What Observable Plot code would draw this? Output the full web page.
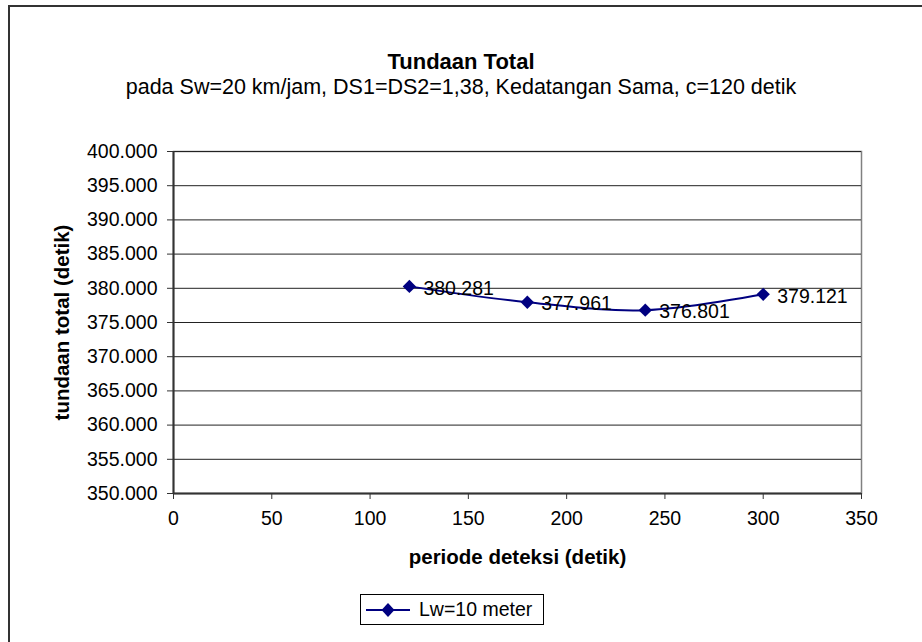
<!DOCTYPE html>
<html>
<head>
<meta charset="utf-8">
<script src="https://cdn.jsdelivr.net/npm/d3@7"></script>
<script src="https://cdn.jsdelivr.net/npm/@observablehq/plot@0.6"></script>
<style>
  html, body { margin: 0; padding: 0; width: 922px; height: 642px; overflow: hidden; background: #fff; font-family: "Liberation Sans", Arial, sans-serif; }
  #frame { position: absolute; left: 8px; top: 5px; width: 1000px; height: 1000px; border: 2px solid #333; box-sizing: border-box; }
  .title { position: absolute; left: 0; width: 922px; text-align: center; color: #000; white-space: nowrap; }
  #t1 { top: 49px; font-size: 22px; font-weight: bold; line-height: 26px; }
  #t2 { top: 74px; font-size: 21.5px; line-height: 26px; }
  #chart { position: absolute; left: 0; top: 100px; }
  #legend { position: absolute; left: 360px; top: 594px; width: 184px; height: 31px; border: 1px solid #000; background: #fff; display: flex; align-items: center; padding: 0 0 0 4px; font-size: 19.5px; box-sizing: border-box; }
  #legend svg { margin-right: 8px; }
</style>
</head>
<body>
<div id="frame"></div>
<div class="title" id="t1"></div>
<div class="title" id="t2"></div>
<div id="chart"></div>
<div id="legend"></div>
<script>
// ---- data ----
const titleText = "Tundaan Total";
const subtitleText = "pada Sw=20 km/jam, DS1=DS2=1,38, Kedatangan Sama, c=120 detik";
const xTitle = "periode deteksi (detik)";
const yTitle = "tundaan total (detik)";
const seriesName = "Lw=10 meter";
const periods = [120, 180, 240, 300];
const delays = [380281, 377961, 376801, 379121];
const xTicks = [0, 50, 100, 150, 200, 250, 300, 350];
const yTicks = [350000, 355000, 360000, 365000, 370000, 375000, 380000, 385000, 390000, 395000, 400000];
const seriesColor = "#000080";

const idLocale = d3.formatLocale({decimal: ",", thousands: ".", grouping: [3], currency: ["Rp", ""]});
const fmt = idLocale.format(",d");

document.getElementById("t1").textContent = titleText;
document.getElementById("t2").textContent = subtitleText;

const data = periods.map((p, i) => ({x: p, y: delays[i]}));

const W = 922, H = 480;
const chart = Plot.plot({
  width: W,
  height: H,
  marginLeft: 173,
  marginRight: 61,
  marginTop: 51,
  marginBottom: 87,
  style: {fontFamily: "Liberation Sans, Arial, sans-serif", fontSize: "19px", color: "#000", background: "transparent", overflow: "visible"},
  x: {domain: [xTicks[0], xTicks[xTicks.length - 1]]},
  y: {domain: [yTicks[0], yTicks[yTicks.length - 1]]},
  marks: [
    Plot.frame({stroke: "#808080", strokeWidth: 1.5}),
    Plot.gridY(yTicks, {stroke: "#222", strokeOpacity: 1, strokeWidth: 1}),
    Plot.ruleX([xTicks[0]], {stroke: "#333", strokeWidth: 2}),
    Plot.ruleY([yTicks[0]], {stroke: "#333", strokeWidth: 2}),
    Plot.axisY(yTicks, {tickFormat: fmt, tickSize: 6, tickPadding: 10, fontSize: 19.5, label: null, stroke: "#333"}),
    Plot.axisX(xTicks, {tickSize: 6, tickPadding: 12, fontSize: 19.5, label: null, stroke: "#333"}),
    Plot.text([yTitle], {frameAnchor: "left", rotate: -90, dx: -111, textAnchor: "middle", lineAnchor: "middle", fontWeight: "bold", fontSize: 20.5}),
    Plot.text([xTitle], {frameAnchor: "bottom", dy: 64, textAnchor: "middle", lineAnchor: "middle", fontWeight: "bold", fontSize: 20.5}),
    Plot.line(data, {x: "x", y: "y", curve: "catmull-rom", stroke: seriesColor, strokeWidth: 2}),
    Plot.dot(data, {x: "x", y: "y", symbol: "diamond2", r: 6, fill: seriesColor, stroke: "none"}),
    Plot.text(data, {x: "x", y: "y", text: d => fmt(d.y), textAnchor: "start", dx: 14, dy: 2, fontSize: 19.5, fill: "#000"})
  ]
});
document.getElementById("chart").appendChild(chart);

// legend
const lg = document.getElementById("legend");
const ns = "http://www.w3.org/2000/svg";
const sw = document.createElementNS(ns, "svg");
sw.setAttribute("width", "46"); sw.setAttribute("height", "20");
sw.innerHTML = `<line x1="1" x2="45" y1="10" y2="10" stroke="${seriesColor}" stroke-width="2"/>` +
  `<path d="M23,3 L29.5,10 L23,17 L16.5,10 Z" fill="${seriesColor}"/>`;
lg.appendChild(sw);
const span = document.createElement("span");
span.textContent = seriesName;
lg.appendChild(span);
</script>
</body>
</html>
